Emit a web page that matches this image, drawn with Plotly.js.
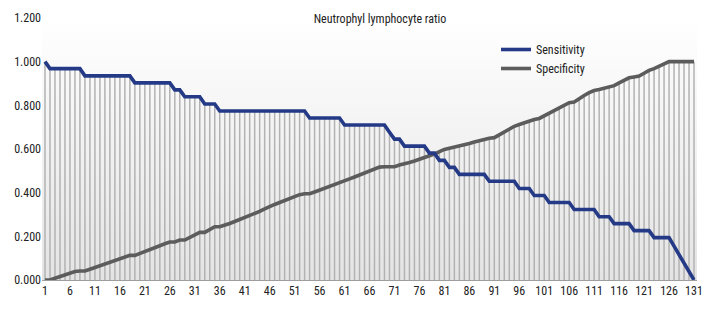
<!DOCTYPE html>
<html>
<head>
<meta charset="utf-8">
<script src="https://cdn.plot.ly/plotly-3.0.1.min.js"></script>
<style>
  html, body { margin: 0; padding: 0; background: #ffffff; }
  #chart { width: 720px; height: 312px; }
  #chart svg text { font-stretch: condensed; }
</style>
</head>
<body>
<div id="chart"></div>
<script>
// ---- data ----
const chartTitle = "Neutrophyl lymphocyte ratio";
const seriesNames = ["Sensitivity", "Specificity"];

const sensitivity = [
  1.000,
  0.968, 0.968, 0.968, 0.968, 0.968, 0.968, 0.968,
  0.935, 0.935, 0.935, 0.935, 0.935, 0.935, 0.935, 0.935, 0.935, 0.935,
  0.903, 0.903, 0.903, 0.903, 0.903, 0.903, 0.903, 0.903,
  0.871, 0.871,
  0.839, 0.839, 0.839, 0.839,
  0.806, 0.806, 0.806,
  0.774, 0.774, 0.774, 0.774, 0.774, 0.774, 0.774, 0.774, 0.774, 0.774, 0.774, 0.774, 0.774, 0.774, 0.774, 0.774, 0.774, 0.774,
  0.742, 0.742, 0.742, 0.742, 0.742, 0.742, 0.742,
  0.710, 0.710, 0.710, 0.710, 0.710, 0.710, 0.710, 0.710, 0.710,
  0.677,
  0.645, 0.645,
  0.613, 0.613, 0.613, 0.613, 0.613,
  0.581, 0.581,
  0.548, 0.548,
  0.516, 0.516,
  0.484, 0.484, 0.484, 0.484, 0.484, 0.484,
  0.452, 0.452, 0.452, 0.452, 0.452, 0.452,
  0.419, 0.419, 0.419,
  0.387, 0.387, 0.387,
  0.355, 0.355, 0.355, 0.355, 0.355,
  0.323, 0.323, 0.323, 0.323, 0.323,
  0.290, 0.290, 0.290,
  0.258, 0.258, 0.258, 0.258,
  0.226, 0.226, 0.226, 0.226,
  0.194, 0.194, 0.194, 0.194,
  0.155, 0.116, 0.078, 0.039, 0.000
];

const specificity = [
  0.000, 0.000, 0.008, 0.016, 0.024, 0.031, 0.039, 0.041, 0.041, 0.049,
  0.057, 0.065, 0.073, 0.081, 0.089, 0.097, 0.105, 0.113, 0.113, 0.121,
  0.130, 0.138, 0.148, 0.157, 0.166, 0.174, 0.174, 0.183, 0.183, 0.196,
  0.209, 0.218, 0.218, 0.232, 0.244, 0.244, 0.250, 0.259, 0.268, 0.277,
  0.285, 0.293, 0.302, 0.314, 0.326, 0.338, 0.346, 0.355, 0.364, 0.373,
  0.382, 0.391, 0.395, 0.395, 0.403, 0.411, 0.419, 0.427, 0.435, 0.446,
  0.455, 0.463, 0.472, 0.481, 0.490, 0.499, 0.508, 0.517, 0.519, 0.519,
  0.519, 0.527, 0.531, 0.538, 0.545, 0.552, 0.559, 0.567, 0.577, 0.588,
  0.598, 0.603, 0.608, 0.611, 0.618, 0.625, 0.632, 0.639, 0.646, 0.649,
  0.652, 0.666, 0.680, 0.694, 0.704, 0.712, 0.720, 0.730, 0.735, 0.740,
  0.752, 0.763, 0.774, 0.786, 0.801, 0.812, 0.815, 0.832, 0.845, 0.858,
  0.868, 0.872, 0.878, 0.886, 0.890, 0.903, 0.915, 0.926, 0.930, 0.934,
  0.947, 0.960, 0.968, 0.978, 0.990, 1.000, 1.000, 1.000, 1.000, 1.000,
  1.000
];

const xTickValues = [1, 6, 11, 16, 21, 26, 31, 36, 41, 46, 51, 56, 61, 66, 71, 76, 81, 86, 91, 96, 101, 106, 111, 116, 121, 126, 131];
const yTickValues = [0, 0.2, 0.4, 0.6, 0.8, 1.0, 1.2];
const yTickLabels = ["0.000", "0.200", "0.400", "0.600", "0.800", "1.000", "1.200"];

// ---- derived ----
const xIndex = sensitivity.map((_, i) => i + 1);
const dropTop = sensitivity.map((v, i) => Math.max(v, specificity[i]));
// drop lines as segments from 0 to the higher of the two curves
const dropX = [], dropY = [];
xIndex.forEach((x, i) => { dropX.push(x, x, null); dropY.push(0, dropTop[i], null); });

const FONT = '"Roboto Condensed", "Liberation Sans Narrow", "Arial Narrow", "DejaVu Sans Condensed", sans-serif';
const xRange = [0.4, 131.6];
const yRange = [0, 1.2];

const traces = [
  { // plot-area gradient background
    x: [xRange[0], xRange[1], xRange[1], xRange[0], xRange[0]],
    y: [yRange[0], yRange[0], yRange[1], yRange[1], yRange[0]],
    type: "scatter", mode: "lines", fill: "toself",
    line: { width: 0, color: "rgba(0,0,0,0)" },
    fillgradient: { type: "vertical", start: 0, stop: 1.2,
      colorscale: [[0, "#e4e4e4"], [1, "#ffffff"]] },
    hoverinfo: "skip", showlegend: false
  },
  { // drop lines
    x: dropX, y: dropY, type: "scatter", mode: "lines",
    line: { color: "#b2b2b2", width: 1.5 },
    connectgaps: false, hoverinfo: "skip", showlegend: false
  },
  {
    x: xIndex, y: specificity, type: "scatter", mode: "lines",
    name: seriesNames[1], legendrank: 2,
    line: { color: "#5c5c5c", width: 3.6 }
  },
  {
    x: xIndex, y: sensitivity, type: "scatter", mode: "lines",
    name: seriesNames[0], legendrank: 1,
    line: { color: "#243a86", width: 3.6 }
  }
];

const layout = {
  width: 720, height: 312,
  margin: { l: 42, r: 23, t: 18, b: 32 },
  paper_bgcolor: "#ffffff",
  plot_bgcolor: "rgba(0,0,0,0)",
  font: { family: FONT, size: 12, color: "#222222" },
  title: {
    text: chartTitle,
    font: { family: FONT, size: 12, color: "#222222" },
    xref: "container", x: 380 / 720, xanchor: "center",
    yref: "container", y: 1 - 19 / 312, yanchor: "middle"
  },
  showlegend: true,
  legend: {
    xref: "paper", yref: "paper",
    x: (496 - 42) / 655, y: 1 - (35 - 18) / 262, xanchor: "left", yanchor: "top",
    bgcolor: "rgba(0,0,0,0)",
    font: { family: FONT, size: 12, color: "#222222" },
    itemwidth: 30, tracegroupgap: 0
  },
  xaxis: {
    range: xRange, tickmode: "array", tickvals: xTickValues,
    ticktext: xTickValues.map(String), tickangle: 0,
    showgrid: false, zeroline: false,
    showline: true, linecolor: "#9e9e9e", linewidth: 1,
    ticks: "", tickfont: { family: FONT, size: 12, color: "#222222" },
    fixedrange: true
  },
  yaxis: {
    range: yRange, tickmode: "array", tickvals: yTickValues, ticktext: yTickLabels,
    showgrid: false, zeroline: false, showline: false,
    ticks: "", tickfont: { family: FONT, size: 12, color: "#222222" },
    fixedrange: true
  }
};

Plotly.newPlot("chart", traces, layout, { displayModeBar: false, staticPlot: true });
</script>
</body>
</html>
